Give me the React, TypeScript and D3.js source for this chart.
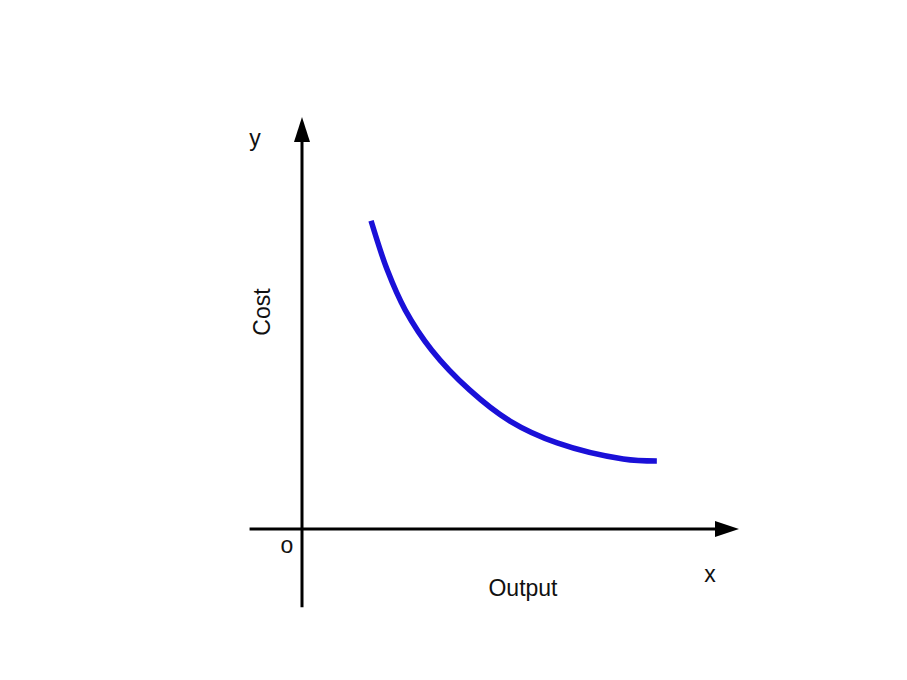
import React, { useEffect, useRef } from "react";
import * as d3 from "d3";

// average cost curve (output, cost)
const output = [1.58, 1.95, 2.36, 2.97, 3.84, 4.76, 5.84, 7.35, 8.12];
const cost = [7.48, 6.29, 5.32, 4.34, 3.37, 2.62, 2.09, 1.7, 1.65];

const xExtent = [-1.2, 10];
const yExtent = [-1.9, 10];

const App = () => {
  const svgRef = useRef<SVGSVGElement>(null);

  useEffect(() => {
    const width = 907;
    const height = 680;
    const svg = d3.select(svgRef.current);
    svg.selectAll("*").remove();
    svg.attr("width", width).attr("height", height);

    const x = d3.scaleLinear().domain([0, 10]).range([302, 739]);
    const y = d3.scaleLinear().domain([0, 10]).range([529, 117]);
    const font = "'Liberation Sans', Arial, sans-serif";

    // axes
    svg
      .append("line")
      .attr("x1", x(xExtent[0]))
      .attr("x2", x(xExtent[1]) - 10)
      .attr("y1", y(0))
      .attr("y2", y(0))
      .attr("stroke", "#000")
      .attr("stroke-width", 3);
    svg
      .append("line")
      .attr("x1", x(0))
      .attr("x2", x(0))
      .attr("y1", y(yExtent[0]))
      .attr("y2", y(yExtent[1]) + 10)
      .attr("stroke", "#000")
      .attr("stroke-width", 3);

    // arrow heads
    const xt = x(xExtent[1]);
    svg
      .append("path")
      .attr("d", `M${xt},${y(0)}L${xt - 24},${y(0) - 8}L${xt - 24},${y(0) + 8}Z`)
      .attr("fill", "#000");
    const yt = y(yExtent[1]);
    svg
      .append("path")
      .attr("d", `M${x(0)},${yt}L${x(0) - 8},${yt + 25}L${x(0) + 8},${yt + 25}Z`)
      .attr("fill", "#000");

    // curve
    const line = d3
      .line<number>()
      .x((d, i) => x(output[i]))
      .y((d) => y(d))
      .curve(d3.curveCatmullRom.alpha(0.5));
    svg
      .append("path")
      .datum(cost)
      .attr("d", line)
      .attr("fill", "none")
      .attr("stroke", "#1a10d8")
      .attr("stroke-width", 5.5);

    // labels
    const label = (t: string, px: number, py: number, anchor = "middle") =>
      svg
        .append("text")
        .attr("x", px)
        .attr("y", py)
        .attr("text-anchor", anchor)
        .attr("font-family", font)
        .attr("font-size", 23)
        .attr("fill", "#111")
        .text(t);

    label("y", 255, 146);
    label("o", 287, 553);
    label("x", 710, 582);
    label("Output", 523, 596);
    svg
      .append("text")
      .attr("transform", `translate(270,312) rotate(-90)`)
      .attr("text-anchor", "middle")
      .attr("font-family", font)
      .attr("font-size", 23)
      .attr("fill", "#111")
      .text("Cost");
  }, []);

  return <svg ref={svgRef} style={{ position: "absolute", left: 0, top: 0 }}></svg>;
};

export default App;
